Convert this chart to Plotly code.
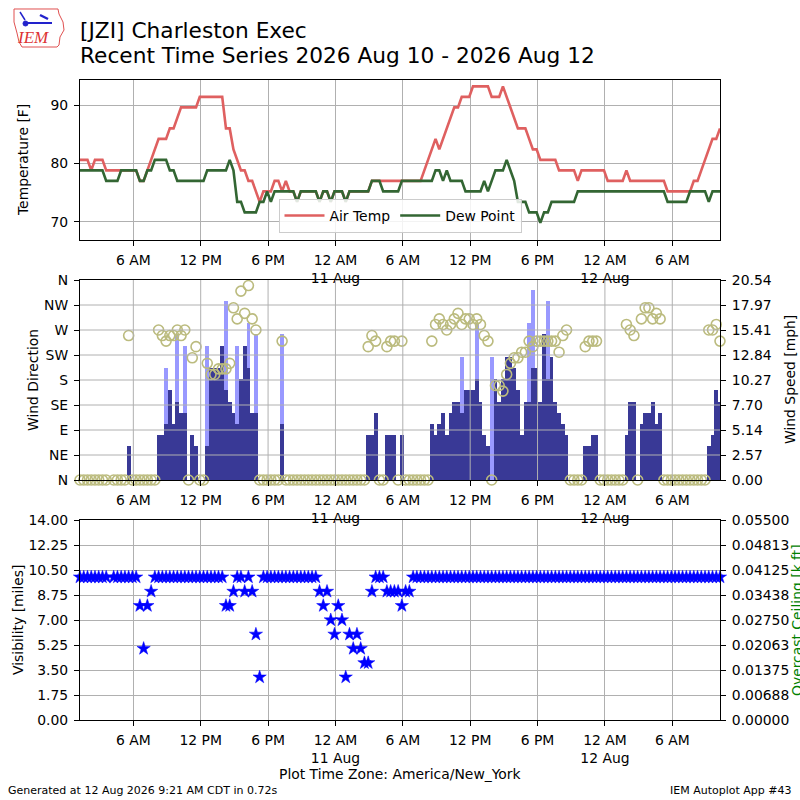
import pandas as pd
import plotly.graph_objects as go

# ---------------- data (20-minute AWOS observations) ----------------
obs_time = pd.date_range("2026-08-10 01:15", periods=172, freq="20min")

air_temp = [
    80.6, 80.6, 80.6, 78.8, 80.6, 80.6, 80.6, 78.8, 78.8, 78.8,
    78.8, 78.8, 78.8, 78.8, 78.8, 78.8, 77.0, 77.0, 78.8, 80.6,
    82.4, 84.2, 84.2, 84.2, 86.0, 86.0, 87.8, 89.6, 89.6, 89.6,
    89.6, 89.6, 91.4, 91.4, 91.4, 91.4, 91.4, 91.4, 91.4, 86.0,
    86.0, 82.4, 80.6, 78.8, 78.8, 77.0, 77.0, 75.2, 73.4, 75.2,
    75.2, 75.2, 77.0, 77.0, 75.2, 77.0, 75.2, 75.2, 73.4, 75.2,
    75.2, 75.2, 75.2, 75.2, 73.4, 75.2, 75.2, 73.4, 75.2, 75.2,
    75.2, 73.4, 75.2, 75.2, 75.2, 75.2, 75.2, 75.2, 77.0, 77.0,
    77.0, 77.0, 77.0, 77.0, 77.0, 77.0, 77.0, 77.0, 77.0, 77.0,
    77.0, 77.0, 78.8, 80.6, 82.4, 84.2, 82.4, 84.2, 86.0, 87.8,
    89.6, 89.6, 91.4, 91.4, 91.4, 93.2, 93.2, 93.2, 93.2, 93.2,
    91.4, 91.4, 91.4, 93.2, 91.4, 89.6, 87.8, 86.0, 86.0, 86.0,
    84.2, 82.4, 82.4, 80.6, 80.6, 80.6, 80.6, 80.6, 78.8, 78.8,
    78.8, 78.8, 78.8, 77.0, 78.8, 78.8, 78.8, 78.8, 78.8, 78.8,
    78.8, 77.0, 77.0, 77.0, 77.0, 77.0, 78.8, 77.0, 77.0, 77.0,
    77.0, 77.0, 77.0, 77.0, 77.0, 77.0, 77.0, 75.2, 75.2, 75.2,
    75.2, 75.2, 75.2, 75.2, 77.0, 77.0, 78.8, 80.6, 82.4, 84.2,
    84.2, 86.0,
]

dew_point = [
    78.8, 78.8, 78.8, 78.8, 78.8, 78.8, 78.8, 77.0, 77.0, 77.0,
    77.0, 78.8, 78.8, 78.8, 78.8, 78.8, 77.0, 77.0, 78.8, 78.8,
    80.6, 80.6, 80.6, 80.6, 78.8, 78.8, 77.0, 77.0, 77.0, 77.0,
    77.0, 77.0, 77.0, 77.0, 78.8, 78.8, 78.8, 78.8, 78.8, 78.8,
    80.6, 78.8, 73.4, 73.4, 71.6, 71.6, 71.6, 71.6, 73.4, 73.4,
    75.2, 73.4, 75.2, 75.2, 75.2, 75.2, 75.2, 75.2, 73.4, 75.2,
    75.2, 75.2, 75.2, 75.2, 73.4, 75.2, 75.2, 73.4, 75.2, 75.2,
    75.2, 73.4, 75.2, 75.2, 75.2, 75.2, 75.2, 75.2, 77.0, 77.0,
    77.0, 75.2, 75.2, 75.2, 75.2, 75.2, 77.0, 77.0, 77.0, 77.0,
    77.0, 77.0, 77.0, 77.0, 77.0, 78.8, 78.8, 77.0, 78.8, 77.0,
    77.0, 77.0, 77.0, 75.2, 75.2, 75.2, 75.2, 75.2, 77.0, 75.2,
    77.0, 78.8, 78.8, 78.8, 80.6, 78.8, 77.0, 73.4, 73.4, 73.4,
    71.6, 71.6, 71.6, 69.8, 71.6, 71.6, 73.4, 73.4, 73.4, 73.4,
    73.4, 73.4, 73.4, 75.2, 75.2, 75.2, 75.2, 75.2, 75.2, 75.2,
    75.2, 75.2, 75.2, 75.2, 75.2, 75.2, 75.2, 75.2, 75.2, 75.2,
    75.2, 75.2, 75.2, 75.2, 75.2, 75.2, 75.2, 73.4, 73.4, 73.4,
    73.4, 73.4, 73.4, 75.2, 75.2, 75.2, 75.2, 75.2, 73.4, 75.2,
    75.2, 75.2,
]

wind_speed = [
    0, 0, 0, 0, 0, 0, 0, 0, 0, 0,
    0, 0, 0, 3.45, 0, 0, 0, 0, 0, 0,
    0, 4.6, 4.6, 5.75, 9.2, 5.75, 8.06, 6.9, 6.9, 0,
    4.6, 3.45, 0, 0, 3.45, 11.5, 11.5, 11.5, 13.8, 9.2,
    8.06, 6.9, 5.75, 10.36, 13.8, 11.5, 6.9, 6.9, 0, 0,
    0, 0, 0, 0, 5.75, 0, 0, 0, 0, 0,
    0, 0, 0, 0, 0, 0, 0, 0, 0, 0,
    0, 0, 0, 0, 0, 0, 0, 4.6, 4.6, 6.9,
    0, 0, 4.6, 4.6, 4.6, 0, 4.6, 0, 0, 0,
    0, 0, 0, 0, 5.75, 4.6, 5.75, 6.9, 4.6, 6.9,
    8.06, 8.06, 6.9, 9.2, 9.2, 9.2, 10.36, 8.06, 4.6, 3.45,
    0, 10.36, 8.06, 10.36, 12.66, 12.66, 11.5, 9.2, 4.6, 8.06,
    8.06, 11.5, 11.5, 8.06, 14.96, 10.36, 12.66, 8.06, 6.9, 5.75,
    4.6, 0, 0, 0, 0, 3.45, 3.45, 4.6, 4.6, 0,
    0, 0, 0, 0, 0, 0, 4.6, 8.06, 8.06, 0,
    5.75, 6.9, 6.9, 8.06, 5.75, 6.9, 0, 0, 0, 0,
    0, 0, 0, 0, 0, 0, 0, 0, 3.45, 4.6,
    9.2, 8.06,
]

N = None
wind_gust = [
    N, N, N, N, N, N, N, N, N, N,
    N, N, N, N, N, N, N, N, N, N,
    N, N, N, 11.5, N, N, 14.96, N, 13.8, N,
    N, N, N, N, 13.8, N, N, N, N, 18.4,
    N, N, 13.8, N, N, 16.1, N, 14.96, N, N,
    N, N, N, N, 14.96, N, N, N, N, N,
    N, N, N, N, N, N, N, N, N, N,
    N, N, N, N, N, N, N, N, N, N,
    N, N, N, N, N, N, N, N, N, N,
    N, N, N, N, N, N, N, N, N, N,
    N, N, 12.66, N, N, N, 16.1, N, N, N,
    12.66, N, N, N, N, N, N, N, N, N,
    16.1, 19.56, N, N, N, 18.4, N, N, N, N,
    N, N, N, N, N, N, N, N, N, N,
    N, N, N, N, N, N, N, N, N, N,
    N, N, N, N, N, N, N, N, N, N,
    N, N, N, N, N, N, N, N, N, N,
    N, N,
]

wind_dir = [
    0, 0, 0, 0, 0, 0, 0, 0, N, 0,
    0, 0, 0, 260, 0, 0, 0, 0, 0, 0,
    0, 270, 260, 250, 260, 260, 270, 260, 270, 0,
    220, 240, 0, 0, 210, 190, 190, 200, 200, 200,
    210, 310, 290, 340, 300, 350, 290, 270, 0, 0,
    0, 0, 0, 0, 250, 0, 0, 0, 0, 0,
    0, 0, 0, 0, 0, 0, 0, 0, 0, 0,
    0, 0, 0, 0, 0, 0, 0, 240, 260, 250,
    0, 0, 240, 250, 250, 0, 250, 0, 0, 0,
    0, 0, 0, 0, 250, 280, 290, 280, 270, 280,
    290, 300, 280, 290, 290, 280, 290, 280, 260, 250,
    0, 170, 170, 160, 190, 210, 220, 220, 230, 230,
    250, 240, 250, 250, 250, 250, 250, 250, 230, 260,
    270, 0, 0, 0, 0, 240, 250, 250, 250, 0,
    0, 0, 0, 0, 0, 0, 280, 270, 260, 0,
    290, 310, 310, 290, 300, 290, 0, 0, 0, 0,
    0, 0, 0, 0, 0, 0, 0, 0, 270, 270,
    280, 250,
]

visibility = [
    10, 10, 10, 10, 10, 10, 10, 10, N, 10,
    10, 10, 10, 10, 10, 10, 8, 5, 8, 9,
    10, 10, 10, 10, 10, 10, 10, 10, 10, 10,
    10, 10, 10, 10, 10, 10, 10, 10, 10, 8,
    8, 9, 10, 10, 9, 10, 9, 6, 3, 10,
    10, 10, 10, 10, 10, 10, 10, 10, 10, 10,
    10, 10, 10, 10, 9, 8, 9, 7, 6, 8,
    7, 3, 6, 5, 6, 5, 4, 4, 9, 10,
    10, 10, 9, 9, 9, 9, 8, 9, 9, 10,
    10, 10, 10, 10, 10, 10, 10, 10, 10, 10,
    10, 10, 10, 10, 10, 10, 10, 10, 10, 10,
    10, 10, 10, 10, 10, 10, 10, 10, 10, 10,
    10, 10, 10, 10, 10, 10, 10, 10, 10, 10,
    10, 10, 10, 10, 10, 10, 10, 10, 10, 10,
    10, 10, 10, 10, 10, 10, 10, 10, 10, 10,
    10, 10, 10, 10, 10, 10, 10, 10, 10, 10,
    10, 10, 10, 10, 10, 10, 10, 10, 10, 10,
    10, 10,
]

for name, arr in [("air_temp", air_temp), ("dew_point", dew_point), ("wind_speed", wind_speed),
                  ("wind_gust", wind_gust), ("wind_dir", wind_dir), ("visibility", visibility)]:
    assert len(arr) == len(obs_time), (name, len(arr))

# axis ticks / labels
x_tick_times = ["2026-08-10 06:00", "2026-08-10 12:00", "2026-08-10 18:00",
                "2026-08-11 00:00", "2026-08-11 06:00", "2026-08-11 12:00",
                "2026-08-11 18:00", "2026-08-12 00:00", "2026-08-12 06:00"]
x_tick_labels = ["6 AM", "12 PM", "6 PM", "12 AM<br>11 Aug", "6 AM", "12 PM",
                 "6 PM", "12 AM<br>12 Aug", "6 AM"]
x_range = ["2026-08-10 01:15", "2026-08-12 10:15"]

temp_ticks = [70, 80, 90]
dir_ticks = [0, 45, 90, 135, 180, 225, 270, 315, 360]
dir_labels = ["N", "NE", "E", "SE", "S", "SW", "W", "NW", "N"]
speed_ticks = [0, 2.5675, 5.135, 7.7025, 10.27, 12.8375, 15.405, 17.9725, 20.54]
speed_labels = ["0.00", "2.57", "5.14", "7.70", "10.27", "12.84", "15.41", "17.97", "20.54"]
vis_ticks = [0, 1.75, 3.5, 5.25, 7.0, 8.75, 10.5, 12.25, 14.0]
vis_labels = ["0.00", "1.75", "3.50", "5.25", "7.00", "8.75", "10.50", "12.25", "14.00"]
ceil_ticks = [0, 0.006875, 0.01375, 0.020625, 0.0275, 0.034375, 0.04125, 0.048125, 0.055]
ceil_labels = ["0.00000", "0.00688", "0.01375", "0.02063", "0.02750", "0.03438",
               "0.04125", "0.04813", "0.05500"]

# ---------------- styling ----------------
FONT = "DejaVu Sans"
FS = 13.9
GRID = "#b0b0b0"
TEMP_C = "#df6060"
DEW_C = "#336633"
GUST_C = "#9999ff"
WIND_C = "#393996"
DIR_C = "#bbbb7e"
VIS_C = "#0000ff"


def px(xp):
    return (xp - 80) / 640.0


def py(yp):
    return (720 - yp) / 640.0


fig = go.Figure()

fig.add_trace(go.Scatter(x=obs_time, y=air_temp, mode="lines", name="Air Temp",
                         line=dict(color=TEMP_C, width=2.6), xaxis="x", yaxis="y"))
fig.add_trace(go.Scatter(x=obs_time, y=dew_point, mode="lines", name="Dew Point",
                         line=dict(color=DEW_C, width=2.6), xaxis="x", yaxis="y"))

fig.add_trace(go.Bar(x=obs_time, y=wind_gust, width=1200000, marker=dict(color=GUST_C, line=dict(width=0)),
                     showlegend=False, xaxis="x2", yaxis="y2"))
fig.add_trace(go.Bar(x=obs_time, y=wind_speed, width=1200000, marker=dict(color=WIND_C, line=dict(width=0)),
                     showlegend=False, xaxis="x2", yaxis="y2"))
fig.add_trace(go.Scatter(x=obs_time, y=wind_dir, mode="markers", showlegend=False,
                         marker=dict(symbol="circle-open", size=10, color=DIR_C, line=dict(width=1.6, color=DIR_C)),
                         cliponaxis=False, xaxis="x2", yaxis="y3"))

fig.add_trace(go.Scatter(x=obs_time, y=visibility, mode="markers", showlegend=False,
                         marker=dict(symbol="star", size=10, color=VIS_C, line=dict(width=0.5, color=VIS_C)),
                         cliponaxis=False, xaxis="x3", yaxis="y4"))
fig.add_trace(go.Scatter(x=[obs_time[0]], y=[None], mode="markers", showlegend=False,
                         xaxis="x3", yaxis="y5"))

xcommon = dict(range=x_range, type="date", tickvals=x_tick_times, ticktext=x_tick_labels,
               showline=True, linecolor="black", linewidth=1.1, mirror=True,
               ticks="outside", ticklen=5, tickcolor="black", tickwidth=1.1,
               gridcolor=GRID, gridwidth=1, zeroline=False, ticklabelstandoff=2,
               tickfont=dict(family=FONT, size=FS, color="black"))
ycommon = dict(showline=True, linecolor="black", linewidth=1.1, mirror=True,
               ticks="outside", ticklen=5, tickcolor="black", tickwidth=1.1,
               gridcolor=GRID, gridwidth=1, zeroline=False, ticklabelstandoff=3,
               tickfont=dict(family=FONT, size=FS, color="black"))

fig.update_layout(
    width=800, height=800,
    margin=dict(l=80, r=80, t=80, b=80),
    plot_bgcolor="white", paper_bgcolor="white",
    font=dict(family=FONT, size=FS, color="black"),
    barmode="overlay", bargap=0,
    showlegend=True,
    legend=dict(x=0.5, xanchor="center", y=py(233), yanchor="bottom", orientation="h",
                bgcolor="rgba(255,255,255,0.85)", bordercolor="#cccccc", borderwidth=1,
                font=dict(family=FONT, size=FS), itemwidth=40, tracegroupgap=0),
    xaxis=dict(domain=[0, 1], anchor="y", showgrid=True, **xcommon),
    yaxis=dict(domain=[0.75, 1], anchor="x", range=[66.86, 94.3], tickvals=temp_ticks,
               showgrid=True, **ycommon),
    xaxis2=dict(domain=[0, 1], anchor="y2", showgrid=False, **xcommon),
    yaxis2=dict(domain=[0.375, 0.6875], anchor="x2", side="right", range=[0, 20.54],
                tickvals=speed_ticks, ticktext=speed_labels, showgrid=False, **ycommon),
    yaxis3=dict(overlaying="y2", anchor="x2", side="left", range=[0, 360],
                tickvals=dir_ticks, ticktext=dir_labels, showgrid=False, **ycommon),
    xaxis3=dict(domain=[0, 1], anchor="y4", showgrid=True, **xcommon),
    yaxis4=dict(domain=[0, 0.3125], anchor="x3", range=[0, 14], tickvals=vis_ticks,
                ticktext=vis_labels, showgrid=True, **ycommon),
    yaxis5=dict(overlaying="y4", anchor="x3", side="right", range=[0, 0.055],
                tickvals=ceil_ticks, ticktext=ceil_labels, showgrid=False, **ycommon),
)

# grid of the wind panel drawn above the bars (as in the source image)
shapes = []
for v in dir_ticks[1:-1]:
    shapes.append(dict(type="line", xref="x2 domain", yref="y3", x0=0, x1=1, y0=v, y1=v,
                       line=dict(color=GRID, width=1), layer="above"))
for t in x_tick_times:
    shapes.append(dict(type="line", xref="x2", yref="y2 domain", x0=t, x1=t, y0=0, y1=1,
                       line=dict(color=GRID, width=1), layer="above"))

# IEM logo (approximation)
outline = [(14, 9), (58, 9), (59, 14), (63, 22), (64, 30), (60, 37), (59, 45), (57, 47),
           (22, 47), (19, 42), (17, 33), (14, 22), (14, 9)]
path = "M " + " L ".join(f"{px(a):.5f},{py(b):.5f}" for a, b in outline) + " Z"
shapes.append(dict(type="path", xref="paper", yref="paper", path=path,
                   line=dict(color="#e05050", width=1)))
shapes.append(dict(type="line", xref="paper", yref="paper", x0=px(26), x1=px(52), y0=py(23), y1=py(23),
                   line=dict(color="#2222cc", width=2)))
shapes.append(dict(type="line", xref="paper", yref="paper", x0=px(20), x1=px(25), y0=py(12), y1=py(20),
                   line=dict(color="#2222cc", width=1.5)))
shapes.append(dict(type="line", xref="paper", yref="paper", x0=px(40), x1=px(48), y0=py(15), y1=py(19),
                   line=dict(color="#2222cc", width=2.5)))
shapes.append(dict(type="circle", xref="paper", yref="paper", x0=px(23), x1=px(28), y0=py(21), y1=py(26),
                   fillcolor="#2222cc", line=dict(color="#2222cc", width=1)))
fig.update_layout(shapes=shapes)


def text_at(text, xp, yp, size=FS, color="black", xanchor="center", angle=0, family=FONT):
    return dict(text=text, x=px(xp), y=py(yp), xref="paper", yref="paper", showarrow=False,
                textangle=angle, font=dict(family=family, size=size, color=color),
                xanchor=xanchor, yanchor="middle", borderpad=0)


annotations = [
    text_at("<i>IEM</i>", 33, 37, size=17, color="#dd3333", family="Liberation Serif"),
    text_at("[JZI] Charleston Exec", 79, 30, size=21.7, xanchor="left"),
    text_at("Recent Time Series 2026 Aug 10 - 2026 Aug 12", 79, 56, size=21.7, xanchor="left"),
    text_at("Temperature [F]", 23, 160, angle=-90),
    text_at("Wind Direction", 33, 380, angle=-90),
    text_at("Wind Speed [mph]", 790, 380, angle=-90),
    text_at("Visibility [miles]", 18, 620, angle=-90),
    text_at("Overcast Ceiling [k ft]", 797, 620, angle=-90, color="#008000"),
    text_at("Plot Time Zone: America/New_York", 400, 774),
    text_at("Generated at 12 Aug 2026 9:21 AM CDT in 0.72s", 7, 790, size=11, xanchor="left"),
    text_at("IEM Autoplot App #43", 793, 790, size=11, xanchor="right"),
]
fig.update_layout(annotations=annotations)

fig.write_html("out.html", config={"displayModeBar": False},
               post_script="document.body.style.margin='0';document.body.style.overflow='hidden';")
